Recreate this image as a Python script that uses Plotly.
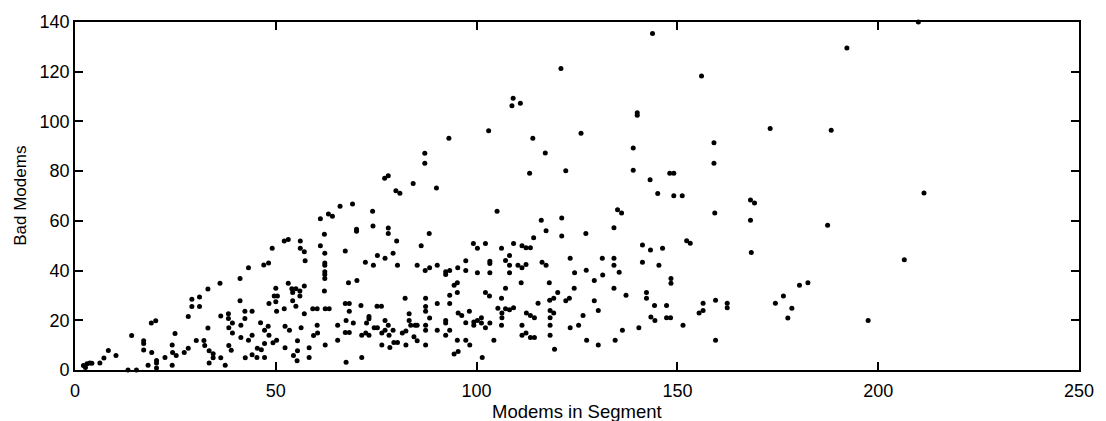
import plotly.graph_objects as go

# Modems in segment (x) and bad modems (y)
modems = [
    2.1, 3.0, 3.7, 4.2, 2.6, 6.2, 7.2, 8.3, 10.2, 14.1, 13.2, 15.3,
    17.1, 17.1, 17.1, 18.2, 19.0, 20.1, 19.1, 20.3, 20.3, 20.3, 22.4, 24.2, 24.2, 24.3, 25.2, 24.9,
    27.2, 28.2, 28.2, 29.1, 29.1, 31.0, 31.0, 30.2, 32.1, 32.3, 33.1, 33.1, 33.4, 34.4, 34.4, 33.4,
    36.1, 36.3, 36.3, 37.4, 38.2, 38.2, 38.3, 38.3, 38.9, 39.2, 39.2, 41.1, 41.1, 42.3, 42.3, 41.3, 41.3, 42.4,
    43.2, 43.2, 44.1, 44.1, 44.1, 45.3, 45.4, 46.4, 47.2, 46.2, 47.2, 48.1, 47.2, 48.3, 47.0, 48.2, 49.1, 48.3,
    49.3, 50.0, 49.6, 50.4, 50.0, 50.2, 50.2,
    52.1, 53.1, 52.1, 52.3, 52.3, 53.1, 53.4, 54.0, 55.0, 54.2, 56.0, 56.0, 54.2, 55.0,
    54.4, 55.4, 55.3, 55.4, 56.1, 56.1, 57.1, 57.3, 57.1, 57.1, 56.3, 58.3, 58.3, 59.4, 60.4, 59.2, 60.3, 60.3,
    61.1, 61.1, 62.1, 62.2, 62.2, 62.2, 62.2, 62.2, 62.2, 62.1, 62.3, 63.3, 62.3, 63.1, 64.1, 66.0, 65.4, 65.4,
    67.3, 67.3, 68.3, 68.1, 68.3, 67.5, 67.3, 68.3, 67.5, 69.1, 69.3, 70.1, 70.1, 70.2, 71.2, 71.4, 72.4, 73.2, 71.4,
    72.3, 72.6, 73.2, 73.2, 74.1, 74.2, 74.3, 74.5, 75.3, 75.3, 75.2, 76.3, 76.4, 77.2, 77.2, 76.4, 77.2, 78.0, 78.0, 78.0,
    78.2, 78.4, 79.2, 79.2, 79.4, 80.3, 80.1, 80.3, 81.5, 82.4, 82.2, 82.4, 83.2, 83.2, 83.6, 84.7, 85.2, 84.4, 85.2,
    85.2, 86.2, 87.3, 87.3, 87.3, 87.3, 87.3, 87.3, 87.2, 88.3, 88.2, 88.3, 90.2, 90.2, 90.2, 92.3, 92.3, 93.3, 92.3, 92.3, 92.3, 93.3,
    93.3, 93.3, 94.4, 95.2, 95.2, 94.4, 95.4, 95.3, 95.2, 95.4, 96.3, 97.3, 97.3, 97.3, 97.3, 98.3, 98.2, 99.2, 100.2, 100.2, 99.3, 99.3, 100.2,
    101.2, 101.2, 101.4, 102.2, 102.2, 102.2, 103.2, 103.3, 103.3, 103.3, 103.3, 104.3, 105.1, 105.3, 106.2, 106.2,
    106.3, 106.3, 107.2, 106.2, 107.2, 107.2, 108.2, 108.2, 108.2, 108.2, 109.2, 109.2, 110.3, 111.3, 112.3, 111.1, 111.3, 112.3, 113.4,
    111.3, 111.3, 112.3, 112.4, 113.4, 114.4, 113.4, 114.4, 114.2, 115.3, 116.1, 116.3, 117.3, 117.3, 118.1, 118.2, 119.2, 120.2,
    118.3, 119.2, 118.3, 118.3, 118.3, 119.4, 121.2, 121.2, 122.2, 123.1, 123.3, 123.3, 124.4, 124.3, 125.4, 126.5, 127.2, 127.3, 127.4,
    129.3, 129.3, 130.3, 130.3, 131.3, 131.4, 134.2, 134.2, 134.2, 134.2, 134.5, 135.1, 136.1, 135.5, 136.3, 137.2, 140.4, 141.3, 141.3, 142.3, 142.3,
    143.3, 143.4, 144.4, 144.3, 145.1, 145.4, 146.3, 147.3, 147.3, 148.3, 148.4, 148.4, 149.1,
    151.2, 151.4, 152.3, 153.2, 155.4, 156.4, 156.4, 159.3, 159.5, 159.5, 162.4, 162.4, 168.2, 169.2, 168.2, 168.4, 174.4, 176.4, 177.5, 178.5,
    180.4, 182.5, 187.4, 197.5, 206.5, 211.4,
    93.1, 87.1, 87.1, 77.1, 78.0, 84.2, 90.0, 79.9, 80.9,
    143.8, 121.0, 109.1, 108.8, 110.9, 140.0, 140.0, 103.0, 114.0, 126.0, 117.1, 139.0, 113.2, 122.2, 139.0, 143.2, 148.1, 149.1,
    192.2, 156.0, 173.1, 188.3, 159.1, 159.1, 210.0,
]

bad_modems = [
    1.8, 2.5, 2.8, 2.7, 1.0, 2.8, 4.8, 7.8, 5.8, 13.9, 0.0, 0.0,
    11.8, 10.7, 8.0, 1.9, 18.9, 19.8, 7.0, 3.8, 2.8, 0.8, 5.0, 10.1, 1.9, 7.0, 5.8, 14.7,
    7.0, 8.7, 21.5, 28.5, 25.5, 29.4, 25.5, 11.9, 11.9, 9.9, 32.6, 16.9, 7.7, 6.5, 4.9, 2.8,
    34.9, 21.7, 4.9, 1.9, 22.6, 20.7, 17.0, 9.9, 7.9, 14.9, 18.9, 36.8, 27.9, 23.6, 20.7, 18.0, 13.1, 4.9,
    41.1, 12.0, 23.6, 14.0, 6.1, 5.0, 8.7, 8.1, 10.7, 19.0, 16.0, 17.6, 5.0, 14.0, 42.2, 43.0, 49.0, 26.8,
    11.0, 32.9, 29.8, 29.8, 27.5, 23.6, 12.0,
    51.9, 52.5, 24.6, 17.6, 9.0, 34.9, 16.0, 32.7, 32.7, 31.2, 31.8, 29.8, 27.9, 25.6,
    5.8, 7.7, 3.7, 11.8, 51.9, 49.0, 47.6, 44.0, 33.8, 22.6, 17.0, 9.0, 5.0, 13.9, 14.9, 24.6, 24.6, 18.0,
    60.8, 50.0, 54.6, 47.0, 43.0, 42.1, 39.5, 38.4, 36.8, 31.8, 24.6, 24.6, 10.1, 62.8, 61.9, 65.9, 18.0, 12.0,
    47.9, 26.8, 26.8, 35.1, 23.6, 19.9, 15.1, 15.1, 3.1, 66.8, 18.9, 56.6, 55.8, 36.0, 25.9, 14.0, 14.9, 14.0, 5.0,
    43.3, 18.9, 20.6, 21.5, 63.9, 57.9, 42.1, 17.0, 17.0, 46.1, 25.6, 25.6, 14.9, 16.0, 19.9, 10.1, 45.0, 57.1, 54.9, 18.0,
    14.0, 9.1, 47.0, 16.0, 11.1, 11.1, 51.9, 42.1, 14.9, 15.7, 28.9, 10.1, 22.6, 19.9, 18.0, 18.0, 18.0, 13.4, 11.8,
    42.1, 50.0, 28.9, 25.5, 23.6, 18.0, 16.0, 10.1, 40.0, 41.1, 54.9, 20.9, 42.1, 26.8, 16.0, 39.5, 38.4, 40.0, 19.9, 18.9, 14.0, 16.0,
    30.1, 26.8, 34.1, 35.1, 31.2, 6.4, 7.4, 41.1, 12.0, 22.9, 21.9, 44.0, 40.0, 19.0, 12.0, 10.1, 23.6, 50.9, 49.0, 39.1, 19.3, 18.0, 19.9,
    21.0, 18.9, 5.0, 50.9, 17.0, 31.2, 29.8, 18.9, 43.7, 42.8, 39.1, 12.0, 63.9, 24.8, 49.0, 28.9,
    22.9, 21.0, 24.6, 18.0, 44.1, 32.9, 46.1, 42.1, 39.1, 24.2, 25.0, 50.9, 42.1, 41.1, 42.4, 35.1, 50.0, 49.2, 49.2,
    18.0, 14.0, 14.9, 22.9, 21.9, 21.0, 13.1, 13.1, 53.2, 26.9, 60.2, 43.3, 42.1, 56.0, 35.1, 28.1, 28.9, 31.2,
    23.9, 22.9, 21.0, 18.0, 14.0, 8.3, 61.1, 53.9, 27.9, 28.9, 45.0, 17.0, 39.1, 32.9, 18.0, 21.9, 54.9, 40.1, 12.0,
    36.0, 27.9, 23.9, 10.1, 45.0, 38.2, 57.2, 45.0, 42.1, 32.9, 12.0, 64.5, 63.2, 39.3, 16.0, 30.1, 17.0, 50.3, 43.3, 31.2, 28.9,
    48.3, 21.3, 19.9, 25.9, 71.0, 42.1, 49.0, 25.9, 21.0, 21.0, 36.8, 34.9, 70.1,
    70.1, 18.0, 52.0, 51.0, 22.9, 23.9, 26.9, 63.2, 28.1, 12.0, 26.9, 25.0, 68.4, 67.2, 60.2, 47.3, 26.9, 29.8, 20.9, 24.8,
    34.1, 35.1, 58.2, 19.9, 44.4, 71.2,
    93.2, 87.2, 83.2, 77.1, 78.1, 75.0, 73.2, 72.1, 71.1,
    135.4, 121.3, 109.3, 106.3, 107.3, 103.5, 102.5, 96.3, 93.2, 95.2, 87.3, 89.3, 79.2, 80.2, 80.4, 76.5, 79.2, 79.2,
    129.5, 118.3, 97.2, 96.5, 91.4, 83.2, 140.0,
]

x_ticks = [0, 50, 100, 150, 200, 250]
y_ticks = [0, 20, 40, 60, 80, 100, 120, 140]
x_title = "Modems in Segment"
y_title = "Bad Modems"

FONT = "Liberation Sans, Arial, Helvetica, sans-serif"

fig = go.Figure()
fig.add_trace(go.Scatter(
    x=modems, y=bad_modems, mode="markers",
    marker=dict(size=5, color="black", line=dict(width=0)),
    cliponaxis=False, showlegend=False, hoverinfo="x+y",
))

axis_common = dict(
    showline=True, mirror="ticks", linecolor="black", linewidth=1.6,
    ticks="inside", ticklen=8, tickwidth=1.5, tickcolor="black",
    showgrid=False, zeroline=False,
    tickfont=dict(family=FONT, size=18, color="black"),
)

fig.update_layout(
    width=1106, height=421,
    margin=dict(l=75, r=24, t=16, b=51),
    paper_bgcolor="white", plot_bgcolor="white",
    xaxis=dict(range=[0, 250], tickvals=x_ticks, ticktext=[str(v) for v in x_ticks],
               ticklabelstandoff=4, **axis_common),
    yaxis=dict(range=[0, 140], tickvals=y_ticks, ticktext=[str(v) for v in y_ticks], **axis_common),
    annotations=[
        dict(text=x_title, xref="paper", yref="paper", x=0.5, y=-0.118,
             xanchor="center", yanchor="middle", showarrow=False,
             font=dict(family=FONT, size=18.5, color="black")),
        dict(text=y_title, xref="paper", yref="paper", x=-0.055, y=0.5,
             xanchor="center", yanchor="middle", textangle=-90, showarrow=False,
             font=dict(family=FONT, size=17, color="black")),
    ],
)

fig.write_html("out.html")
